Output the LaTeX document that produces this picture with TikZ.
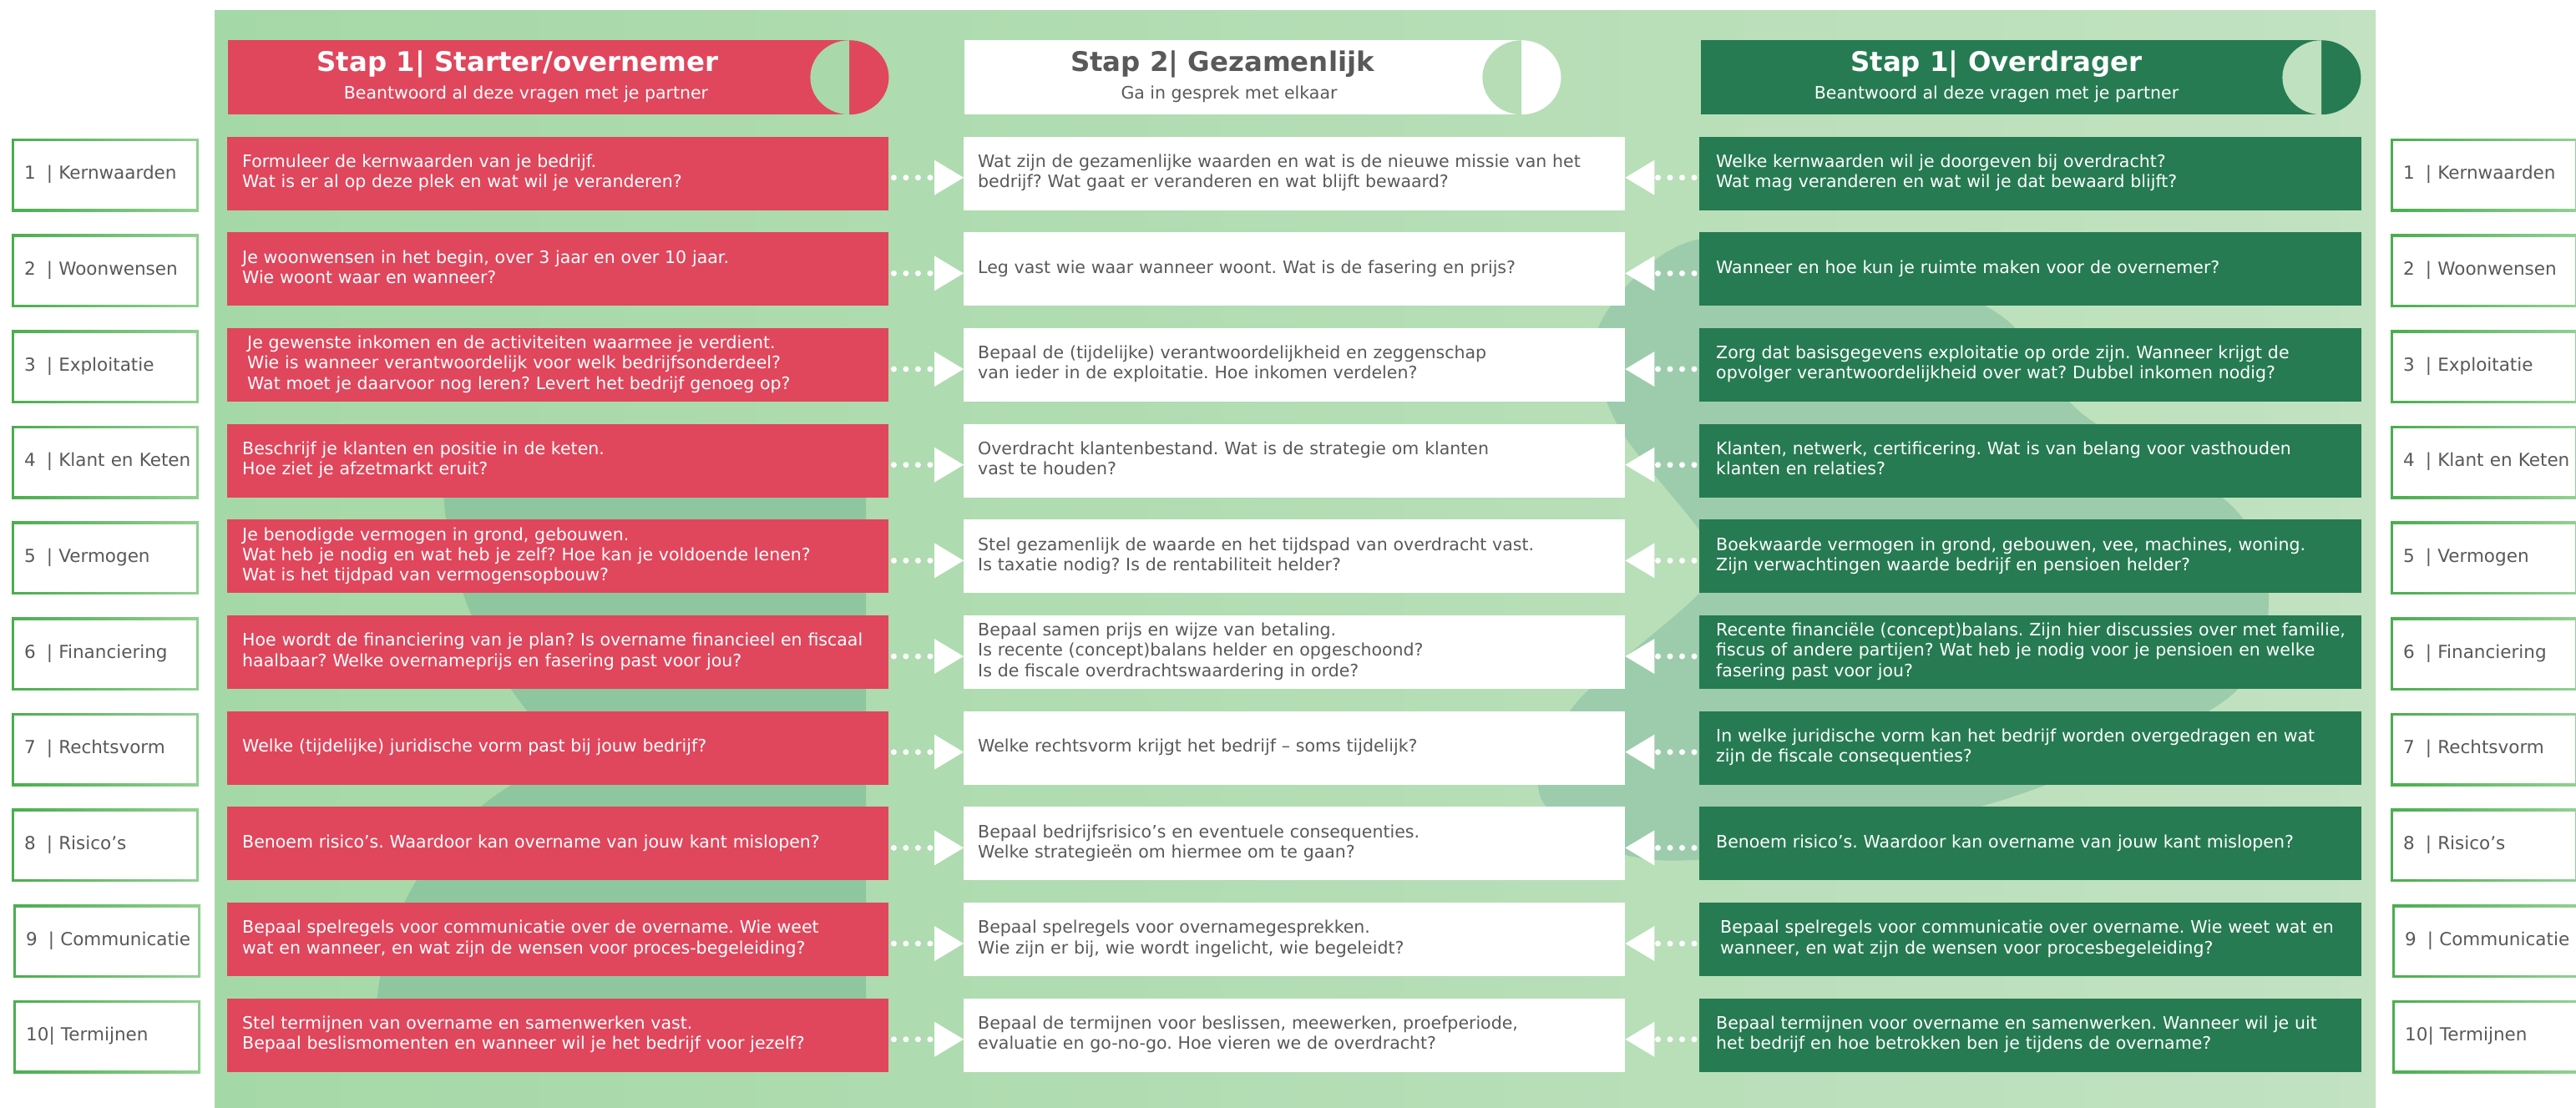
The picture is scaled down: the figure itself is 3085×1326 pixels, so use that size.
\documentclass[tikz,border=0pt]{standalone}
\usepackage{fontspec}
\setmainfont{DejaVu Sans}
\usetikzlibrary{arrows.meta}
\frenchspacing
\definecolor{cred}{HTML}{E0465C}
\definecolor{cgreen}{HTML}{267B52}
\definecolor{cgrey}{HTML}{595959}
\definecolor{panelL}{HTML}{A5D8A7}
\definecolor{panelR}{HTML}{C2E2C1}
\definecolor{blobL}{HTML}{8EC79F}
\definecolor{blobR}{HTML}{9DCCAD}
\definecolor{frameA}{HTML}{4AAE4E}
\definecolor{frameB}{HTML}{92D192}
\definecolor{capA}{HTML}{A9D9AA}
\definecolor{capB}{HTML}{B6DDB6}
\definecolor{capC}{HTML}{C0E1BF}
\newcommand{\txtlines}[1]{\begin{tabular}{@{}l@{}}#1\end{tabular}}
\newcommand{\bodyfont}{\fontsize{20.5pt}{24.2pt}\selectfont\frenchspacing}
\newcommand{\lblfont}{\fontsize{21.5pt}{25pt}\selectfont}
\newcommand{\hdrfont}{\fontsize{32.4pt}{38pt}\selectfont\bfseries}
\begin{document}
\begin{tikzpicture}[x=1pt,y=-1pt,
  box/.style={rectangle, anchor=north west, minimum height=88pt, inner ysep=0pt, align=left, font=\bodyfont},
  redbox/.style={box, fill=cred, text=white, text width=756pt, inner xsep=18pt},
  midbox/.style={box, fill=white, text=cgrey, text width=758pt, inner xsep=17pt},
  grnbox/.style={box, fill=cgreen, text=white, text width=753pt, inner xsep=20pt},
  lblbox/.style={box, minimum height=87pt, fill=white, text=cgrey, text width=194pt, inner xsep=15pt, font=\lblfont,
    path picture={
      \shade[left color=frameA, right color=frameB] (path picture bounding box.south west) rectangle (path picture bounding box.north east);
      \fill[white] ([shift={(3pt,3pt)}]path picture bounding box.south west) rectangle ([shift={(-3pt,-3pt)}]path picture bounding box.north east);
    }},
  hdrbox/.style={rectangle, anchor=north west, minimum height=89pt, inner sep=0pt},
  hdrtitle/.style={font=\hdrfont, inner sep=0pt},
  hdrsub/.style={font=\bodyfont, inner sep=0pt},
  conn/.style={draw=white, line width=7pt, dash pattern=on 0pt off 14.5pt, line cap=round,
    -{Triangle[length=35pt, width=42pt, line width=0pt, fill=white]}}
]
\useasboundingbox (0,0) rectangle (3085,1326);
\fill[white] (0,0) rectangle (3085,1326);
% panel
\shade[left color=panelL, right color=panelR] (257,12) rectangle (2845,1326);
% background blobs
\begin{scope}
  \clip (440,540) rectangle (1037,1240);
  \fill[blobL] (1000,560) circle[radius=470pt];
  \fill[blobL] (790,1230) circle[radius=340pt];
\end{scope}
\fill[blobR] plot[smooth cycle, tension=0.55] coordinates {(2032,287) (2250,318) (2399,380) (2493,495) (2674,607) (2717,722) (2667,837) (2420,951) (2150,1015) (1960,1027) (1845,955) (1885,845) (2040,705) (2045,650) (1935,505) (1915,390)};

% headers
\node[hdrbox, fill=cred, minimum width=744pt] (H1) at (273,48) {};
\begin{scope}
  \clip (1017,40) rectangle (1075,145);
  \fill[cred] (H1.east) ellipse[x radius=47pt, y radius=44.5pt];
\end{scope}
\begin{scope}
  \clip (960,40) rectangle (1017,145);
  \fill[capA] (H1.east) ellipse[x radius=47pt, y radius=44.5pt];
\end{scope}
\node[hdrtitle, text=white] (H1t) at (620,76.5) {Stap 1| Starter/overnemer};
\node[hdrsub, text=white] (H1s) at (630,112.5) {Beantwoord al deze vragen met je partner};

\node[hdrbox, fill=white, minimum width=667pt] (H2) at (1155,48) {};
\begin{scope}
  \clip (1822,40) rectangle (1880,145);
  \fill[white] (H2.east) ellipse[x radius=47pt, y radius=44.5pt];
\end{scope}
\begin{scope}
  \clip (1765,40) rectangle (1822,145);
  \fill[capB] (H2.east) ellipse[x radius=47pt, y radius=44.5pt];
\end{scope}
\node[hdrtitle, text=cgrey] (H2t) at (1464,76.5) {Stap 2| Gezamenlijk};
\node[hdrsub, text=cgrey] (H2s) at (1472,112.5) {Ga in gesprek met elkaar};

\node[hdrbox, fill=cgreen, minimum width=743pt] (H3) at (2037,48) {};
\begin{scope}
  \clip (2780,40) rectangle (2840,145);
  \fill[cgreen] (H3.east) ellipse[x radius=47pt, y radius=44.5pt];
\end{scope}
\begin{scope}
  \clip (2720,40) rectangle (2780,145);
  \fill[capC] (H3.east) ellipse[x radius=47pt, y radius=44.5pt];
\end{scope}
\node[hdrtitle, text=white] (H3t) at (2391,76.5) {Stap 1| Overdrager};
\node[hdrsub, text=white] (H3s) at (2391,112.5) {Beantwoord al deze vragen met je partner};

% row 1
\node[redbox] (L1) at (272,163.5) {\txtlines{Formuleer de kernwaarden van je bedrijf.\\Wat is er al op deze plek en wat wil je veranderen?}};
\node[midbox] (M1) at (1154,163.5) {\txtlines{Wat zijn de gezamenlijke waarden en wat is de nieuwe missie van het\\bedrijf? Wat gaat er veranderen en wat blijft bewaard?}};
\node[grnbox] (R1) at (2035,163.5) {\txtlines{Welke kernwaarden wil je doorgeven bij overdracht?\\Wat mag veranderen en wat wil je dat bewaard blijft?}};
% row 2
\node[redbox] (L2) at (272,278.17) {\txtlines{Je woonwensen in het begin, over 3 jaar en over 10 jaar.\\Wie woont waar en wanneer?}};
\node[midbox] (M2) at (1154,278.17) {\txtlines{Leg vast wie waar wanneer woont. Wat is de fasering en prijs?}};
\node[grnbox] (R2) at (2035,278.17) {\txtlines{Wanneer en hoe kun je ruimte maken voor de overnemer?}};
% row 3
\node[redbox] (L3) at (272,392.84) {\txtlines{\hspace*{6pt}Je gewenste inkomen en de activiteiten waarmee je verdient.\\\hspace*{6pt}Wie is wanneer verantwoordelijk voor welk bedrijfsonderdeel?\\\hspace*{6pt}Wat moet je daarvoor nog leren? Levert het bedrijf genoeg op?}};
\node[midbox] (M3) at (1154,392.84) {\txtlines{Bepaal de (tijdelijke) verantwoordelijkheid en zeggenschap\\van ieder in de exploitatie. Hoe inkomen verdelen?}};
\node[grnbox] (R3) at (2035,392.84) {\txtlines{Zorg dat basisgegevens exploitatie op orde zijn. Wanneer krijgt de\\opvolger verantwoordelijkheid over wat? Dubbel inkomen nodig?}};
% row 4
\node[redbox] (L4) at (272,507.51) {\txtlines{Beschrijf je klanten en positie in de keten.\\Hoe ziet je afzetmarkt eruit?}};
\node[midbox] (M4) at (1154,507.51) {\txtlines{Overdracht klantenbestand. Wat is de strategie om klanten\\vast te houden?}};
\node[grnbox] (R4) at (2035,507.51) {\txtlines{Klanten, netwerk, certificering. Wat is van belang voor vasthouden\\klanten en relaties?}};
% row 5
\node[redbox] (L5) at (272,622.18) {\txtlines{Je benodigde vermogen in grond, gebouwen.\\Wat heb je nodig en wat heb je zelf? Hoe kan je voldoende lenen?\\Wat is het tijdpad van vermogensopbouw?}};
\node[midbox] (M5) at (1154,622.18) {\txtlines{Stel gezamenlijk de waarde en het tijdspad van overdracht vast.\\Is taxatie nodig? Is de rentabiliteit helder?}};
\node[grnbox] (R5) at (2035,622.18) {\txtlines{Boekwaarde vermogen in grond, gebouwen, vee, machines, woning.\\Zijn verwachtingen waarde bedrijf en pensioen helder?}};
% row 6
\node[redbox] (L6) at (272,736.85) {\txtlines{Hoe wordt de financiering van je plan? Is overname financieel en fiscaal\\haalbaar? Welke overnameprijs en fasering past voor jou?}};
\node[midbox] (M6) at (1154,736.85) {\txtlines{Bepaal samen prijs en wijze van betaling.\\Is recente (concept)balans helder en opgeschoond?\\Is de fiscale overdrachtswaardering in orde?}};
\node[grnbox] (R6) at (2035,736.85) {\txtlines{Recente financiële (concept)balans. Zijn hier discussies over met familie,\\fiscus of andere partijen? Wat heb je nodig voor je pensioen en welke\\fasering past voor jou?}};
% row 7
\node[redbox] (L7) at (272,851.52) {\txtlines{Welke (tijdelijke) juridische vorm past bij jouw bedrijf?}};
\node[midbox] (M7) at (1154,851.52) {\txtlines{Welke rechtsvorm krijgt het bedrijf – soms tijdelijk?}};
\node[grnbox] (R7) at (2035,851.52) {\txtlines{In welke juridische vorm kan het bedrijf worden overgedragen en wat\\zijn de fiscale consequenties?}};
% row 8
\node[redbox] (L8) at (272,966.19) {\txtlines{Benoem risico’s. Waardoor kan overname van jouw kant mislopen?}};
\node[midbox] (M8) at (1154,966.19) {\txtlines{Bepaal bedrijfsrisico’s en eventuele consequenties.\\Welke strategieën om hiermee om te gaan?}};
\node[grnbox] (R8) at (2035,966.19) {\txtlines{Benoem risico’s. Waardoor kan overname van jouw kant mislopen?}};
% row 9
\node[redbox] (L9) at (272,1080.86) {\txtlines{Bepaal spelregels voor communicatie over de overname. Wie weet\\wat en wanneer, en wat zijn de wensen voor proces-begeleiding?}};
\node[midbox] (M9) at (1154,1080.86) {\txtlines{Bepaal spelregels voor overnamegesprekken.\\Wie zijn er bij, wie wordt ingelicht, wie begeleidt?}};
\node[grnbox] (R9) at (2035,1080.86) {\txtlines{\hspace*{5pt}Bepaal spelregels voor communicatie over overname. Wie weet wat en\\\hspace*{5pt}wanneer, en wat zijn de wensen voor procesbegeleiding?}};
% row 10
\node[redbox] (L10) at (272,1195.53) {\txtlines{Stel termijnen van overname en samenwerken vast.\\Bepaal beslismomenten en wanneer wil je het bedrijf voor jezelf?}};
\node[midbox] (M10) at (1154,1195.53) {\txtlines{Bepaal de termijnen voor beslissen, meewerken, proefperiode,\\evaluatie en go-no-go. Hoe vieren we de overdracht?}};
\node[grnbox] (R10) at (2035,1195.53) {\txtlines{Bepaal termijnen voor overname en samenwerken. Wanneer wil je uit\\het bedrijf en hoe betrokken ben je tijdens de overname?}};

% labels
\node[lblbox] (A1) at (14,166) {\txtlines{1\hspace{13pt}| Kernwaarden}};
\node[lblbox] (A2) at (14,280.67) {\txtlines{2\hspace{13pt}| Woonwensen}};
\node[lblbox] (A3) at (14,395.34) {\txtlines{3\hspace{13pt}| Exploitatie}};
\node[lblbox] (A4) at (14,510.01) {\txtlines{4\hspace{13pt}| Klant en Keten}};
\node[lblbox] (A5) at (14,624.68) {\txtlines{5\hspace{13pt}| Vermogen}};
\node[lblbox] (A6) at (14,739.35) {\txtlines{6\hspace{13pt}| Financiering}};
\node[lblbox] (A7) at (14,854.02) {\txtlines{7\hspace{13pt}| Rechtsvorm}};
\node[lblbox] (A8) at (14,968.69) {\txtlines{8\hspace{13pt}| Risico’s}};
\node[lblbox] (A9) at (16,1083.36) {\txtlines{9\hspace{13pt}| Communicatie}};
\node[lblbox] (A10) at (16,1198.03) {\txtlines{10| Termijnen}};
\node[lblbox] (B1) at (2863,166) {\txtlines{1\hspace{13pt}| Kernwaarden}};
\node[lblbox] (B2) at (2863,280.67) {\txtlines{2\hspace{13pt}| Woonwensen}};
\node[lblbox] (B3) at (2863,395.34) {\txtlines{3\hspace{13pt}| Exploitatie}};
\node[lblbox] (B4) at (2863,510.01) {\txtlines{4\hspace{13pt}| Klant en Keten}};
\node[lblbox] (B5) at (2863,624.68) {\txtlines{5\hspace{13pt}| Vermogen}};
\node[lblbox] (B6) at (2863,739.35) {\txtlines{6\hspace{13pt}| Financiering}};
\node[lblbox] (B7) at (2863,854.02) {\txtlines{7\hspace{13pt}| Rechtsvorm}};
\node[lblbox] (B8) at (2863,968.69) {\txtlines{8\hspace{13pt}| Risico’s}};
\node[lblbox] (B9) at (2865,1083.36) {\txtlines{9\hspace{13pt}| Communicatie}};
\node[lblbox] (B10) at (2865,1198.03) {\txtlines{10| Termijnen}};

% connectors
\foreach \i in {1,...,10} {
  \draw[conn] ([xshift=6pt,yshift=-5pt]L\i.east) -- ([yshift=-5pt]M\i.west);
  \draw[conn] ([xshift=-6pt,yshift=-5pt]R\i.west) -- ([yshift=-5pt]M\i.east);
}
\end{tikzpicture}
\end{document}
